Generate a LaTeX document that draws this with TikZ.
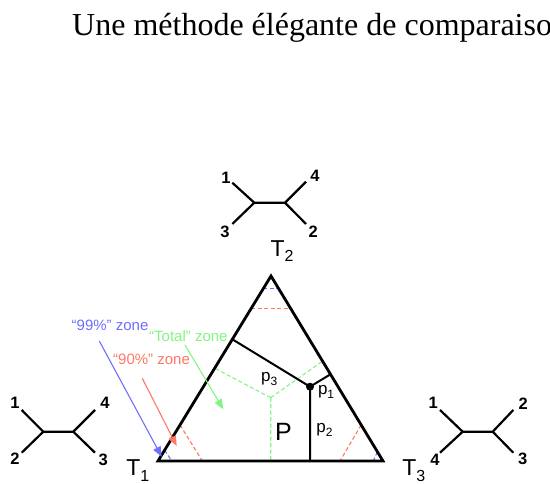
\documentclass[tikz,border=0pt]{standalone}
\usepackage{fontspec}
\setmainfont{Liberation Serif}
\setsansfont{Liberation Sans}
\usetikzlibrary{arrows.meta,calc}
\definecolor{zblue}{RGB}{110,110,255}
\definecolor{zred}{RGB}{255,120,100}
\definecolor{zgreen}{RGB}{130,245,130}
\begin{document}
\begin{tikzpicture}[x=1pt,y=-1pt,
  sidel/.style={line width=2.8pt, line join=miter},
  inner/.style={line width=2pt},
  treeline/.style={line width=2.2pt},
  leaf/.style={font=\sffamily\bfseries\fontsize{16.5}{16.5}\selectfont, inner sep=0pt},
  zdash/.style={line width=1.1pt, dash pattern=on 4pt off 2.5pt},
  zarrow/.style={line width=1.1pt, -{Triangle[length=10pt,width=8pt]}},
  zlab/.style={font=\sffamily\fontsize{15}{15}\selectfont, inner sep=0pt, anchor=base west},
  plab/.style={font=\sffamily\fontsize{17}{17}\selectfont, inner sep=0pt, anchor=base west},
  tlab/.style={font=\sffamily\fontsize{23}{23}\selectfont, inner sep=0pt, anchor=base west}]
\useasboundingbox (0,0) rectangle (550,484);
\clip (0,0) rectangle (550,484);

% title
\node[font=\fontsize{32}{32}\selectfont, inner sep=0pt, anchor=base west] (title) at (72,36) {Une méthode élégante de comparaiso};

% triangle vertices
\coordinate (T1) at (158,461);
\coordinate (T2) at (271,276);
\coordinate (T3) at (383,461);
\coordinate (P) at (310,386.7);

% green total zone
\coordinate (G) at (270.7,397.7);
\coordinate (GL) at (215,368.3);
\coordinate (GR) at (323.3,360.7);
\coordinate (GB) at (270.7,461);
\draw[zgreen, zdash] (G) -- (GL) (G) -- (GR) (G) -- (GB);

% red 90% zone
\draw[zred, zdash] ($(T2)!0.175!(T1)$) -- ($(T2)!0.175!(T3)$);
\draw[zred, zdash] ($(T1)!0.195!(T2)$) -- ($(T1)!0.197!(T3)$);
\draw[zred, zdash] ($(T3)!0.195!(T2)$) -- ($(T3)!0.191!(T1)$);

% blue 99% zone
\draw[zblue, zdash] ($(T2)!0.067!(T1)$) -- ($(T2)!0.067!(T3)$);
\draw[zblue, zdash] ($(T1)!0.059!(T2)$) -- ($(T1)!0.061!(T3)$);
\draw[zblue, zdash] ($(T3)!0.05!(T2)$) -- ($(T3)!0.043!(T1)$);

% point P and distances
\coordinate (F1) at ($(T2)!(P)!(T3)$);
\coordinate (F2) at ($(T1)!(P)!(T3)$);
\coordinate (F3) at ($(T1)!(P)!(T2)$);
\draw[inner] (P) -- (F1) (P) -- (F2) (P) -- (F3);

% triangle
\draw[sidel] (T1) -- (T2) -- (T3) -- cycle;
\fill (P) circle (4);

% labels inside
\node[plab] (p3) at (261,382) {p\raisebox{-3.5pt}{\fontsize{12}{12}\selectfont 3}};
\node[plab] (p1) at (317.8,394.8) {p\raisebox{-3.5pt}{\fontsize{12}{12}\selectfont 1}};
\node[plab] (p2) at (316.2,433) {p\raisebox{-3.5pt}{\fontsize{12}{12}\selectfont 2}};
\node[font=\sffamily\fontsize{25}{25}\selectfont, inner sep=0pt, anchor=base west] (Plab) at (275,440) {P};

% vertex labels
\node[tlab] (t2) at (270.3,256.7) {T\raisebox{-5pt}{\fontsize{16}{16}\selectfont 2}};
\node[tlab] (t1) at (126.2,475.5) {T\raisebox{-6pt}{\fontsize{16}{16}\selectfont 1}};
\node[tlab] (t3) at (402.2,475.5) {T\raisebox{-6pt}{\fontsize{16}{16}\selectfont 3}};

% zone labels and arrows
\node[zlab, text=zblue] (l99) at (71.5,330.7) {“99\%” zone};
\node[zlab, text=zred] (l90) at (113,365) {“90\%” zone};
\node[zlab, text=zgreen] (ltot) at (149,341.7) {“Total” zone};
\coordinate (a99s) at (99.3,341);
\coordinate (a99e) at (161.7,456.7);
\coordinate (a90s) at (142.3,378.3);
\coordinate (a90e) at (176.7,446);
\coordinate (atots) at (185,345);
\coordinate (atote) at (223.3,409.3);
\draw[zarrow, zblue] (a99s) -- (a99e);
\draw[zarrow, zred] (a90s) -- (a90e);
\draw[zarrow, zgreen] (atots) -- (atote);

% top tree (T2)
\coordinate (ja) at (254.3,202.7);
\coordinate (jb) at (285,202.7);
\coordinate (ea1) at (232.3,182.7);
\coordinate (ea3) at (232.3,224);
\coordinate (ea4) at (306,181.7);
\coordinate (ea2) at (306,224);
\draw[treeline] (ea1) -- (ja) -- (ea3) (ja) -- (jb) (ea4) -- (jb) -- (ea2);
\node[leaf] (na1) at (226,178.3) {1};
\node[leaf] (na3) at (225,231.7) {3};
\node[leaf] (na4) at (315,176) {4};
\node[leaf] (na2) at (313.3,231.7) {2};

% left tree (T1)
\coordinate (jc) at (43.3,431.7);
\coordinate (jd) at (73.3,431.7);
\coordinate (ec1) at (21.7,410);
\coordinate (ec2) at (21.7,452.7);
\coordinate (ec4) at (95,410);
\coordinate (ec3) at (95,452.7);
\draw[treeline] (ec1) -- (jc) -- (ec2) (jc) -- (jd) (ec4) -- (jd) -- (ec3);
\node[leaf] (nc1) at (15,403.3) {1};
\node[leaf] (nc2) at (15,458.3) {2};
\node[leaf] (nc4) at (105,403.3) {4};
\node[leaf] (nc3) at (103.3,460) {3};

% right tree (T3)
\coordinate (je) at (462.7,431.7);
\coordinate (jf) at (492.7,431.7);
\coordinate (ee1) at (440,410);
\coordinate (ee4) at (440,452.7);
\coordinate (ee2) at (513.3,410);
\coordinate (ee3) at (513.3,452.7);
\draw[treeline] (ee1) -- (je) -- (ee4) (je) -- (jf) (ee2) -- (jf) -- (ee3);
\node[leaf] (ne1) at (433.3,403.3) {1};
\node[leaf] (ne4) at (435,460) {4};
\node[leaf] (ne2) at (523.3,403.3) {2};
\node[leaf] (ne3) at (522.7,459.3) {3};
\end{tikzpicture}
\end{document}
